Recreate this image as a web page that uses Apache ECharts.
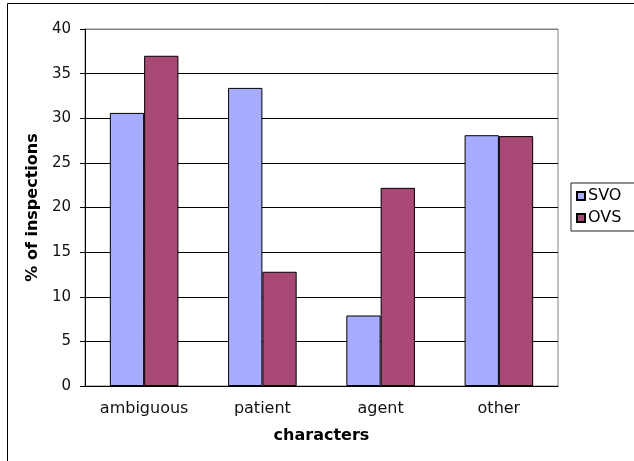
<!DOCTYPE html>
<html>
<head>
<meta charset="utf-8">
<script src="https://cdn.jsdelivr.net/npm/echarts@6/dist/echarts.min.js"></script>
<style>
  html, body { margin: 0; padding: 0; background: #fff; }
  #chart { width: 634px; height: 461px; }
</style>
</head>
<body>
<div id="chart"></div>
<script>
const categories = ['ambiguous', 'patient', 'agent', 'other'];
const svoValues = [30.6, 33.4, 7.9, 28.1];
const ovsValues = [37.0, 12.8, 22.2, 28.0];
const seriesNames = ['SVO', 'OVS'];

const font = 'DejaVu Sans, Verdana, sans-serif';

// top gridline is the grey plot border, the rest are black
const gridColors = ['#000', '#000', '#000', '#000', '#000', '#000', '#000', '#000', '#808080'];

const chart = echarts.init(document.getElementById('chart'));
chart.setOption({
  animation: false,
  textStyle: { fontFamily: font },
  graphic: [{
    type: 'rect',
    shape: { x: 7.5, y: 3.5, width: 700, height: 600 },
    style: { fill: 'none', stroke: '#000', lineWidth: 1 },
    silent: true
  }],
  grid: {
    left: 85, right: 76, top: 29, bottom: 75,
    show: true, borderColor: '#808080', borderWidth: 1,
    outerBoundsMode: 'none'
  },
  legend: {
    orient: 'vertical',
    left: 571, top: 183,
    padding: [5, 20, 5, 5],
    itemGap: 6,
    itemWidth: 8, itemHeight: 8,
    icon: 'rect',
    borderColor: '#222', borderWidth: 1,
    textStyle: { fontSize: 16, color: '#000', fontFamily: font, padding: [0, 0, 0, -2] },
    data: seriesNames
  },
  xAxis: {
    type: 'category',
    data: categories,
    name: 'characters',
    nameLocation: 'middle',
    nameGap: 42,
    nameTextStyle: { fontSize: 16, fontWeight: 'bold', color: '#000' },
    axisLine: { lineStyle: { color: '#000' } },
    axisTick: { length: 5, lineStyle: { color: '#000' } },
    axisLabel: { fontSize: 16, color: '#111', margin: 15 }
  },
  yAxis: {
    type: 'value',
    min: 0, max: 40, interval: 5,
    name: '% of inspections',
    nameLocation: 'middle',
    nameGap: 41,
    nameTextStyle: { fontSize: 16, fontWeight: 'bold', color: '#000' },
    axisLine: { show: true, lineStyle: { color: '#000' } },
    axisTick: { show: true, length: 5, lineStyle: { color: '#000' } },
    axisLabel: { fontSize: 15, color: '#111', margin: 14 },
    splitLine: { lineStyle: { color: gridColors, width: 1 } }
  },
  series: [
    {
      name: seriesNames[0], type: 'bar', data: svoValues,
      barGap: '0%', barCategoryGap: '42%',
      itemStyle: { color: '#A8ACFF', borderColor: '#000', borderWidth: 1 }
    },
    {
      name: seriesNames[1], type: 'bar', data: ovsValues,
      barGap: '0%', barCategoryGap: '42%',
      itemStyle: { color: '#A84874', borderColor: '#000', borderWidth: 1 }
    }
  ]
});
</script>
</body>
</html>
